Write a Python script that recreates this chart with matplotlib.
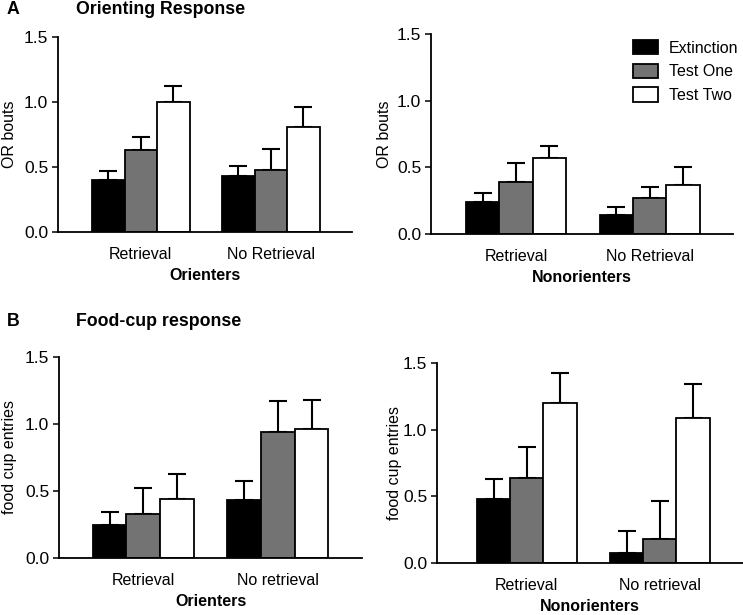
import numpy as np
import matplotlib
matplotlib.use('Agg')
import matplotlib.pyplot as plt

plt.rcParams['font.family'] = ['Liberation Sans', 'DejaVu Sans']

# Data
phases = ['Extinction', 'Test One', 'Test Two']
colors = ['black', '#737373', 'white']

or_orient = [[0.40, 0.63, 1.00], [0.43, 0.48, 0.81]]
or_orient_err = [[0.07, 0.10, 0.12], [0.08, 0.16, 0.15]]
or_non = [[0.24, 0.39, 0.57], [0.14, 0.27, 0.365]]
or_non_err = [[0.07, 0.14, 0.09], [0.06, 0.08, 0.135]]

fc_orient = [[0.25, 0.325, 0.44], [0.43, 0.94, 0.96]]
fc_orient_err = [[0.09, 0.195, 0.19], [0.145, 0.23, 0.22]]
fc_non = [[0.48, 0.636, 1.20], [0.073, 0.18, 1.09]]
fc_non_err = [[0.15, 0.234, 0.225], [0.17, 0.286, 0.25]]

groups_A = ['Retrieval', 'No Retrieval']
groups_B = ['Retrieval', 'No retrieval']

W, H = 743, 615
fig = plt.figure(figsize=(W / 100, H / 100), dpi=100)


def px_axes(l, r, b, t):
    return fig.add_axes([l / W, 1 - b / H, (r - l) / W, (b - t) / H])


def draw(ax, vals, errs, groups, ylabel, xlabel, x0, ylab_x):
    for g in range(2):
        for i in range(3):
            x = x0 + g * 4 + i + 0.5
            ax.bar(x, vals[g][i], width=1, color=colors[i], edgecolor='black',
                   linewidth=1.3, zorder=2, label=phases[i] if g == 0 else None)
            ax.errorbar(x, vals[g][i], yerr=[[0], [errs[g][i]]], fmt='none',
                        ecolor='black', elinewidth=1.5, capsize=6.5, capthick=1.5,
                        zorder=1)
    ax.set_xlim(0, x0 + 8)
    ax.set_ylim(0, 1.5)
    ax.set_yticks([0, 0.5, 1.0, 1.5])
    ax.set_yticklabels(['0.0', '0.5', '1.0', '1.5'], fontsize=12.5)
    ax.set_xticks([x0 + 1.5, x0 + 5.5])
    ax.set_xticklabels(groups, fontsize=11.5)
    ax.tick_params(axis='x', length=0, pad=11)
    ax.tick_params(axis='y', length=4, width=1.1, pad=3)
    for s in ['top', 'right']:
        ax.spines[s].set_visible(False)
    for s in ['left', 'bottom']:
        ax.spines[s].set_linewidth(1.3)
    ax.set_ylabel(ylabel, fontsize=11.5)
    ax.yaxis.set_label_coords(ylab_x, 0.5)
    ax.set_xlabel(xlabel, fontsize=11.5, fontweight='bold', labelpad=4)


ax1 = px_axes(58, 352, 232, 37)
draw(ax1, or_orient, or_orient_err, groups_A, 'OR bouts', 'Orienters', 1.05, -0.139)
ax2 = px_axes(431, 733, 234, 34)
draw(ax2, or_non, or_non_err, groups_A, 'OR bouts', 'Nonorienters', 1.05, -0.129)
ax3 = px_axes(59, 362, 558, 357)
draw(ax3, fc_orient, fc_orient_err, groups_B, 'food cup entries', 'Orienters', 1.0, -0.139)
ax4 = px_axes(437, 743, 563, 363)
draw(ax4, fc_non, fc_non_err, groups_B, 'food cup entries', 'Nonorienters', 1.2, -0.114)

ax2.legend(loc='upper left', bbox_to_anchor=(633 / W, 1 - 40 / H),
           bbox_transform=fig.transFigure, frameon=False, fontsize=11.5,
           borderpad=0, borderaxespad=0, handlelength=1.55, handleheight=1.0,
           handletextpad=0.7, labelspacing=0.5)

fig.text(7 / W, 1 - 9 / H, 'A', fontsize=12.8, fontweight='bold', va='center')
fig.text(76 / W, 1 - 9 / H, 'Orienting Response', fontsize=12.8, fontweight='bold', va='center')
fig.text(7 / W, 1 - 322 / H, 'B', fontsize=12.8, fontweight='bold', va='center')
fig.text(76 / W, 1 - 322 / H, 'Food-cup response', fontsize=12.8, fontweight='bold', va='center')

fig.savefig('out.png', dpi=100)
